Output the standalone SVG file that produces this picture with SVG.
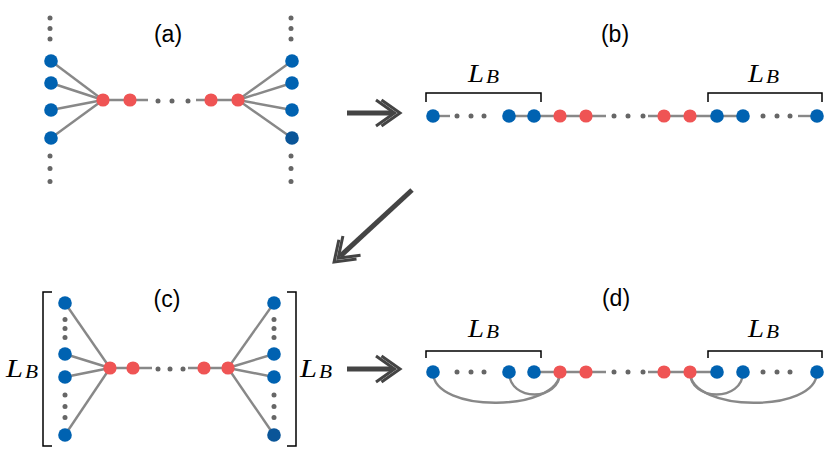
<svg xmlns="http://www.w3.org/2000/svg" width="830" height="458" viewBox="0 0 830 458">
<defs>
<style>
.e{stroke:#888;stroke-width:2.4;fill:none;stroke-linecap:butt}
.arc{stroke:#888;stroke-width:2.4;fill:none}
.b{fill:#0062b1}
.bd{fill:#0a5598}
.r{fill:#ef5454}
.d{fill:#666}
.br{stroke:#000;stroke-width:1.5;fill:none}
.lbl{font-family:"Liberation Sans",Arial,sans-serif;font-size:23px;fill:#000;text-anchor:middle}
.L{font-family:"Liberation Serif","Times New Roman",serif;font-style:italic;font-size:26px;fill:#000}
.Ls{font-family:"Liberation Serif","Times New Roman",serif;font-style:italic;font-size:18px;fill:#000}
.ash{stroke:#444;stroke-width:5;fill:none}
.ach{stroke:#444;stroke-width:3;fill:none;stroke-linejoin:miter}
</style>
</defs>
<rect width="830" height="458" fill="#fff"/>

<g id="arrows">
<g transform="translate(347,113)">
<line class="ash" x1="0" y1="0" x2="45" y2="0"/>
<polyline class="ach" points="29,-13 47.5,0 29,13"/>
<polyline class="ach" points="34.5,-13 53,0 34.5,13"/>
</g>
<g transform="translate(347,369)">
<line class="ash" x1="0" y1="0" x2="45" y2="0"/>
<polyline class="ach" points="29,-13 47.5,0 29,13"/>
<polyline class="ach" points="34.5,-13 53,0 34.5,13"/>
</g>
<g transform="translate(412,190) rotate(137.3)">
<line class="ash" x1="0" y1="0" x2="98" y2="0"/>
<polyline class="ach" points="82,-13 100.5,0 82,13"/>
<polyline class="ach" points="87.5,-13 106,0 87.5,13"/>
</g>
</g>

<g id="panel-a">
<text class="lbl" x="168" y="42">(a)</text>
<g id="a-edges">
<line class="e" x1="103" y1="100" x2="51" y2="61"/>
<line class="e" x1="103" y1="100" x2="51" y2="83"/>
<line class="e" x1="103" y1="100" x2="51" y2="110"/>
<line class="e" x1="103" y1="100" x2="51" y2="138"/>
<line class="e" x1="103" y1="100" x2="148" y2="100"/>
<line class="e" x1="196" y1="100" x2="238" y2="100"/>
<line class="e" x1="238" y1="100" x2="292" y2="61"/>
<line class="e" x1="238" y1="100" x2="292" y2="83"/>
<line class="e" x1="238" y1="100" x2="292" y2="110"/>
<line class="e" x1="238" y1="100" x2="292" y2="138"/>
</g>
<g id="a-dots">
<circle class="d" cx="50" cy="18" r="2.5"/><circle class="d" cx="50" cy="28.5" r="2.5"/><circle class="d" cx="50" cy="39" r="2.5"/>
<circle class="d" cx="50" cy="156" r="2.5"/><circle class="d" cx="50" cy="168.5" r="2.5"/><circle class="d" cx="50" cy="181.5" r="2.5"/>
<circle class="d" cx="291" cy="18" r="2.5"/><circle class="d" cx="291" cy="28.5" r="2.5"/><circle class="d" cx="291" cy="39" r="2.5"/>
<circle class="d" cx="291" cy="156" r="2.5"/><circle class="d" cx="291" cy="168.5" r="2.5"/><circle class="d" cx="291" cy="181.5" r="2.5"/>
<circle class="d" cx="158" cy="101" r="2.5"/><circle class="d" cx="172" cy="101" r="2.5"/><circle class="d" cx="188" cy="101" r="2.5"/>
</g>
<g id="a-nodes">
<circle class="b" cx="51" cy="61" r="6.8"/><circle class="b" cx="51" cy="83" r="6.8"/><circle class="b" cx="51" cy="110" r="6.8"/><circle class="b" cx="51" cy="138" r="6.8"/>
<circle class="r" cx="103" cy="100" r="6.6"/><circle class="r" cx="130" cy="100" r="6.6"/>
<circle class="r" cx="211" cy="100" r="6.6"/><circle class="r" cx="238" cy="100" r="6.6"/>
<circle class="b" cx="292" cy="61" r="6.8"/><circle class="b" cx="292" cy="83" r="6.8"/><circle class="b" cx="292" cy="110" r="6.8"/><circle class="bd" cx="292" cy="138" r="6.8"/>
</g>
</g>

<g id="panel-b">
<text class="lbl" x="615" y="42">(b)</text>
<path class="br" d="M426,102 V93 H541 V102"/>
<path class="br" d="M708,102 V93 H822 V102"/>
<text class="L" x="468" y="82" textLength="16" lengthAdjust="spacingAndGlyphs">L</text><text class="Ls" x="486" y="83" textLength="13" lengthAdjust="spacingAndGlyphs">B</text>
<text class="L" x="748" y="82" textLength="16" lengthAdjust="spacingAndGlyphs">L</text><text class="Ls" x="766" y="83" textLength="13" lengthAdjust="spacingAndGlyphs">B</text>
<g id="b-edges">
<line class="e" x1="433" y1="116" x2="450" y2="116"/>
<line class="e" x1="509" y1="116" x2="606" y2="116"/>
<line class="e" x1="648" y1="116" x2="743" y2="116"/>
<line class="e" x1="798" y1="116" x2="817" y2="116"/>
</g>
<g id="b-dots">
<circle class="d" cx="457" cy="116" r="2.5"/><circle class="d" cx="471" cy="116" r="2.5"/><circle class="d" cx="484" cy="116" r="2.5"/>
<circle class="d" cx="614" cy="116" r="2.5"/><circle class="d" cx="628" cy="116" r="2.5"/><circle class="d" cx="643" cy="116" r="2.5"/>
<circle class="d" cx="763" cy="116" r="2.5"/><circle class="d" cx="777" cy="116" r="2.5"/><circle class="d" cx="790" cy="116" r="2.5"/>
</g>
<g id="b-nodes">
<circle class="b" cx="433" cy="116" r="6.8"/>
<circle class="b" cx="509" cy="116" r="6.8"/><circle class="b" cx="534" cy="116" r="6.8"/>
<circle class="r" cx="560" cy="116" r="6.6"/><circle class="r" cx="586" cy="116" r="6.6"/>
<circle class="r" cx="664" cy="116" r="6.6"/><circle class="r" cx="690" cy="116" r="6.6"/>
<circle class="b" cx="717" cy="116" r="6.8"/><circle class="b" cx="743" cy="116" r="6.8"/>
<circle class="b" cx="817" cy="116" r="6.8"/>
</g>
</g>

<g id="panel-c">
<text class="lbl" x="167" y="307">(c)</text>
<path class="br" d="M52,292 H43 V446 H52"/>
<path class="br" d="M287,292 H296 V446 H287"/>
<text class="L" x="6" y="377" textLength="17" lengthAdjust="spacingAndGlyphs">L</text><text class="Ls" x="25" y="378" textLength="13" lengthAdjust="spacingAndGlyphs">B</text>
<text class="L" x="300" y="377" textLength="17" lengthAdjust="spacingAndGlyphs">L</text><text class="Ls" x="319" y="378" textLength="13" lengthAdjust="spacingAndGlyphs">B</text>
<g id="c-edges">
<line class="e" x1="110" y1="368" x2="65" y2="303"/>
<line class="e" x1="110" y1="368" x2="65" y2="354"/>
<line class="e" x1="110" y1="368" x2="65" y2="377"/>
<line class="e" x1="110" y1="368" x2="65" y2="435"/>
<line class="e" x1="110" y1="368" x2="152" y2="368"/>
<line class="e" x1="188" y1="368" x2="228" y2="368"/>
<line class="e" x1="228" y1="368" x2="274" y2="303"/>
<line class="e" x1="228" y1="368" x2="274" y2="354"/>
<line class="e" x1="228" y1="368" x2="274" y2="377"/>
<line class="e" x1="228" y1="368" x2="274" y2="435"/>
</g>
<g id="c-dots">
<circle class="d" cx="65" cy="319.5" r="2.5"/><circle class="d" cx="65" cy="328.5" r="2.5"/><circle class="d" cx="65" cy="337.5" r="2.5"/>
<circle class="d" cx="65" cy="395" r="2.5"/><circle class="d" cx="65" cy="406.5" r="2.5"/><circle class="d" cx="65" cy="417.5" r="2.5"/>
<circle class="d" cx="274" cy="319.5" r="2.5"/><circle class="d" cx="274" cy="328.5" r="2.5"/><circle class="d" cx="274" cy="337.5" r="2.5"/>
<circle class="d" cx="274" cy="395" r="2.5"/><circle class="d" cx="274" cy="406.5" r="2.5"/><circle class="d" cx="274" cy="417.5" r="2.5"/>
<circle class="d" cx="158" cy="369" r="2.5"/><circle class="d" cx="170" cy="369" r="2.5"/><circle class="d" cx="183" cy="369" r="2.5"/>
</g>
<g id="c-nodes">
<circle class="b" cx="65" cy="303" r="6.8"/><circle class="b" cx="65" cy="354" r="6.8"/><circle class="b" cx="65" cy="377" r="6.8"/><circle class="b" cx="65" cy="435" r="6.8"/>
<circle class="r" cx="110" cy="368" r="6.6"/><circle class="r" cx="133" cy="368" r="6.6"/>
<circle class="r" cx="204" cy="368" r="6.6"/><circle class="r" cx="228" cy="368" r="6.6"/>
<circle class="b" cx="274" cy="303" r="6.8"/><circle class="b" cx="274" cy="354" r="6.8"/><circle class="b" cx="274" cy="377" r="6.8"/><circle class="bd" cx="274" cy="435" r="6.8"/>
</g>
</g>

<g id="panel-d">
<text class="lbl" x="616" y="306">(d)</text>
<path class="br" d="M426,358 V351 H541 V358"/>
<path class="br" d="M708,358 V351 H822 V358"/>
<text class="L" x="468" y="337" textLength="16" lengthAdjust="spacingAndGlyphs">L</text><text class="Ls" x="486" y="338" textLength="13" lengthAdjust="spacingAndGlyphs">B</text>
<text class="L" x="748" y="337" textLength="16" lengthAdjust="spacingAndGlyphs">L</text><text class="Ls" x="766" y="338" textLength="13" lengthAdjust="spacingAndGlyphs">B</text>
<g id="d-edges">
<line class="e" x1="534" y1="372" x2="606" y2="372"/>
<line class="e" x1="648" y1="372" x2="717" y2="372"/>
<path class="arc" d="M433,372 C433,414 560,412 560,372"/>
<path class="arc" d="M509,372 C509,402 560,402 560,372"/>
<path class="arc" d="M690,372 C690,402 743,402 743,372"/>
<path class="arc" d="M690,372 C690,412 817,414 817,372"/>
</g>
<g id="d-dots">
<circle class="d" cx="457" cy="372" r="2.5"/><circle class="d" cx="471" cy="372" r="2.5"/><circle class="d" cx="484" cy="372" r="2.5"/>
<circle class="d" cx="614" cy="372" r="2.5"/><circle class="d" cx="628" cy="372" r="2.5"/><circle class="d" cx="643" cy="372" r="2.5"/>
<circle class="d" cx="763" cy="372" r="2.5"/><circle class="d" cx="777" cy="372" r="2.5"/><circle class="d" cx="790" cy="372" r="2.5"/>
</g>
<g id="d-nodes">
<circle class="b" cx="433" cy="372" r="6.8"/>
<circle class="b" cx="509" cy="372" r="6.8"/><circle class="b" cx="534" cy="372" r="6.8"/>
<circle class="r" cx="560" cy="372" r="6.6"/><circle class="r" cx="586" cy="372" r="6.6"/>
<circle class="r" cx="664" cy="372" r="6.6"/><circle class="r" cx="690" cy="372" r="6.6"/>
<circle class="b" cx="717" cy="372" r="6.8"/><circle class="b" cx="743" cy="372" r="6.8"/>
<circle class="b" cx="817" cy="372" r="6.8"/>
</g>
</g>
</svg>
